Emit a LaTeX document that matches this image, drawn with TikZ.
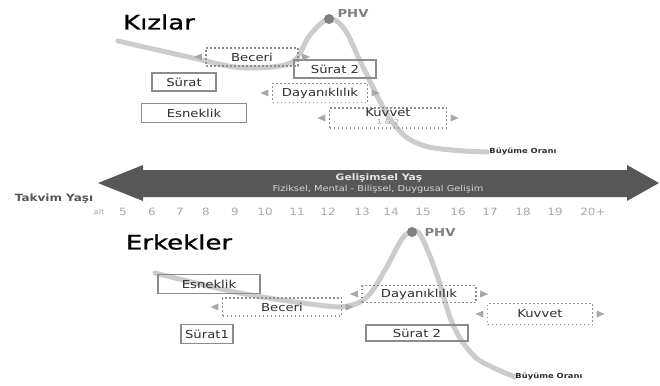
\documentclass[tikz,border=0pt]{standalone}
\usepackage{fontspec}
\setmainfont[FakeStretch=1.2]{DejaVu Sans}
\newfontfamily\titlefont[FakeStretch=1.3,FakeBold=1.2]{DejaVu Sans}
\usetikzlibrary{shapes.geometric,positioning,calc}

\definecolor{curvegray}{gray}{0.80}
\definecolor{phvgray}{gray}{0.50}
\definecolor{boxgray}{gray}{0.55}
\definecolor{dotgray}{gray}{0.56}
\definecolor{trigray}{gray}{0.66}
\definecolor{textgray}{gray}{0.18}
\definecolor{numgray}{gray}{0.66}
\definecolor{arrowgray}{gray}{0.34}

\tikzset{
  solidbox/.style={draw=boxgray, line width=1.1pt, minimum height=18pt, inner sep=0pt,
    text=textgray, font=\fontsize{11}{12}\selectfont},
  dotbox/.style={solidbox, draw=dotgray, line width=1.8pt, dash pattern=on 1.8pt off 2.2pt},
  tril/.style={isosceles triangle, isosceles triangle stretches, shape border rotate=180,
    fill=trigray, inner sep=0pt, minimum height=8pt, minimum width=7pt},
  trir/.style={tril, shape border rotate=0},
  growth/.style={curvegray, line width=5pt, line cap=round},
  title/.style={font=\titlefont\fontsize{20}{22}\selectfont, text=black},
  phv/.style={text=phvgray, font=\bfseries\fontsize{11}{12}\selectfont},
  rate/.style={text=textgray, font=\bfseries\fontsize{7}{8}\selectfont},
  yas/.style={text=numgray, font=\fontsize{10}{12}\selectfont}
}

\begin{document}
\begin{tikzpicture}[x=1pt, y=-1pt]
    \useasboundingbox (0,0) rectangle (660,385);

    % Kizlar
    \node[title] (kiz) at (159,22) {Kızlar};
    \draw[growth] plot[smooth, tension=0.6] coordinates {(118,41) (193,58) (235,67) (272,67)
        (295,60) (310,35) (329,19) (345,30) (363,67) (393,123) (425,146) (487,152)};
    \fill[phvgray] (329,19) circle (5);
    \node[phv] (phvK) at (353,13) {PHV};
    \node[rate] (rateK) at (523,152) {Büyüme Oranı};

    \node[dotbox, minimum width=92pt] (becK) at (252,57) {Beceri};
    \node[solidbox, minimum width=82pt] (surIIK) at (335,69) {Sürat 2};
    \node[solidbox, minimum width=64pt] (surK) at (184,82) {Sürat};
    \node[dotbox, minimum width=95pt, minimum height=19pt] (dayK) at (320,93) {Dayanıklılık};
    \node[solidbox, minimum width=105pt, minimum height=19pt] (esnK) at (194,113) {Esneklik};
    \node[dotbox, minimum width=117pt, minimum height=20pt] (kuvK) at (388,118) {};
    \node[text=textgray, font=\fontsize{11}{12}\selectfont] (kuvKt) at (388,113) {Kuvvet};
    \node[text=numgray, font=\fontsize{7}{8}\selectfont] (kuvKn) at (388,122) {1 \& 2};

    \foreach \b in {becK, dayK, kuvK} {
        \node[tril, left=3pt of \b] {};
        \node[trir, right=3pt of \b] {};
    }

    % Gelisimsel yas oku
    \fill[arrowgray] (98,183) -- (143,165) -- (143,170) -- (627,170) -- (627,165) -- (659,183)
        -- (627,201) -- (627,197) -- (143,197) -- (143,201) -- cycle;
    \node[text=white!85!arrowgray, font=\bfseries\fontsize{9}{10}\selectfont] (gel) at (379,178) {Gelişimsel Yaş};
    \node[text=white!75!arrowgray, font=\fontsize{8.2}{9}\selectfont] (gelalt) at (378,189)
        {Fiziksel, Mental - Bilişsel, Duygusal Gelişim};

    \node[text=arrowgray, font=\bfseries\fontsize{10}{11}\selectfont] (takvim) at (54,199) {Takvim Yaşı};
    \node[yas, font=\fontsize{7}{8}\selectfont] (alt) at (99,212) {alt};
    \foreach \n/\x [count=\i] in {5/123, 6/152, 7/180, 8/206, 9/235, 10/265, 11/297, 12/328,
        13/362, 14/391, 15/423, 16/458, 17/490, 18/523, 19/555, 20+/593}
        \node[yas] (yas\i) at (\x,212) {\n};

    % Erkekler
    \node[title] (erk) at (179,242) {Erkekler};
    \draw[growth] plot[smooth, tension=0.6] coordinates {(155,273) (240,293) (318,305) (348,306)
        (368,296) (385,270) (402,239) (412,232) (421,236) (437,275) (453,325) (473,355) (492,367) (515,377)};
    \fill[phvgray] (412,232) circle (5);
    \node[phv] (phvE) at (440,232) {PHV};
    \node[rate] (rateE) at (549,377) {Büyüme Oranı};

    \node[solidbox, minimum width=102pt, minimum height=19pt] (esnE) at (209,284) {Esneklik};
    \node[dotbox, minimum width=119pt] (becE) at (282,307) {Beceri};
    \node[solidbox, minimum width=52pt, minimum height=19pt] (surE) at (207,334) {Sürat1};
    \node[dotbox, minimum width=114pt, minimum height=17pt] (dayE) at (419,294) {Dayanıklılık};
    \node[dotbox, minimum width=105pt, minimum height=21pt] (kuvE) at (540,314) {Kuvvet};
    \node[solidbox, minimum width=102pt, minimum height=16pt] (surIIE) at (417,333) {Sürat 2};

    \foreach \b in {becE, dayE, kuvE} {
        \node[tril, left=3pt of \b] {};
        \node[trir, right=3pt of \b] {};
    }
\end{tikzpicture}
\end{document}
